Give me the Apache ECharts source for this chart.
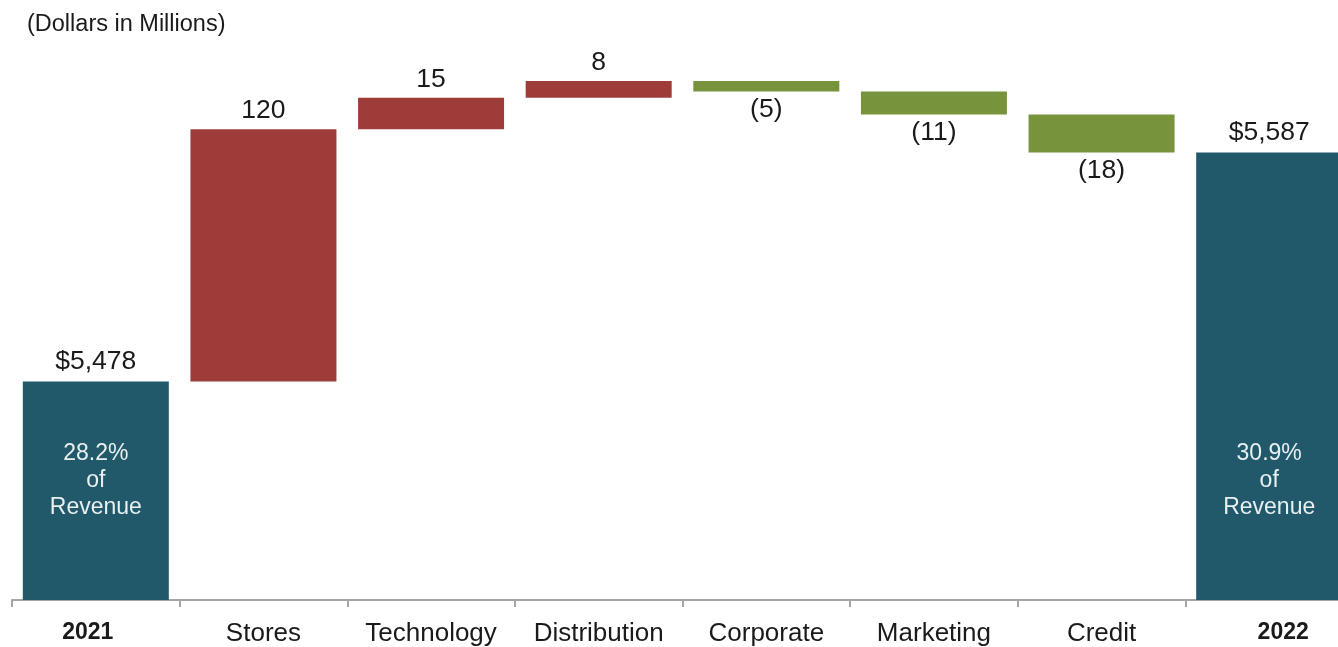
<!DOCTYPE html>
<html><head><meta charset="utf-8">
<script src="https://cdn.jsdelivr.net/npm/echarts@6/dist/echarts.min.js"></script>
<style>html,body{margin:0;padding:0;background:#fff}#c{width:1338px;height:647px}</style>
</head><body><div id="c"></div>
<script>
const categories = ['2021','Stores','Technology','Distribution','Corporate','Marketing','Credit','2022'];
const startTotal = 5478;
const changes = [120, 15, 8, -5, -11, -18];
const endTotal = 5587;
const revenueShare = ['28.2%', '30.9%'];
const unitsNote = '(Dollars in Millions)';

const n = categories.length;
const base = new Array(n).fill('-');
const inc = new Array(n).fill('-');
const dec = new Array(n).fill('-');
const total = new Array(n).fill('-');
total[0] = startTotal; total[n-1] = endTotal;
let run = startTotal;
changes.forEach((c, i) => {
  const k = i + 1;
  if (c >= 0) { base[k] = run; inc[k] = c; }
  else { base[k] = run + c; dec[k] = -c; }
  run += c;
});
const totalTop = categories.map((c, i) => (i === 0 ? startTotal : i === n-1 ? endTotal : '-'));
const FONT = '"Liberation Sans", Arial, sans-serif';
const fmtMoney = v => '$' + v.toLocaleString('en-US');

const chart = echarts.init(document.getElementById('c'));
chart.setOption({
  animation: false,
  textStyle: { fontFamily: FONT },
  grid: { left: 12, right: -15, top: 20, bottom: 47, containLabel: false, outerBoundsMode: 'none' },
  graphic: [{ type: 'text', left: 27, top: 13, style: { text: unitsNote, fontSize: 23.5, fontFamily: FONT, fill: '#1a1a1a' } }],
  xAxis: {
    type: 'category', data: categories,
    axisLine: { lineStyle: { color: '#a6a6a6', width: 2 } },
    axisTick: { show: true, length: 7, lineStyle: { color: '#a6a6a6', width: 2 } },
    axisLabel: {
      margin: 21, fontSize: 26, color: '#1a1a1a', fontFamily: FONT, interval: 0,
      formatter: (v, i) => i === 0 ? '{a|' + v + '}' : i === n-1 ? '{b|' + v + '}' : v,
      rich: {
        a: { fontSize: 23, fontWeight: 'bold', color: '#1a1a1a', fontFamily: FONT, padding: [0, 16, 0, 0] },
        b: { fontSize: 23, fontWeight: 'bold', color: '#1a1a1a', fontFamily: FONT, padding: [0, 0, 0, 28] }
      }
    }
  },
  yAxis: { type: 'value', show: false, min: 5374, max: 5650, splitLine: { show: false } },
  series: [
    { name: 'base', type: 'bar', stack: 'w', data: base, barWidth: 146, itemStyle: { color: 'transparent' }, silent: true },
    { name: 'inc', type: 'bar', stack: 'w', data: inc, barWidth: 146, itemStyle: { color: '#9e3c3a' },
      label: { show: true, position: 'top', distance: 5, fontSize: 26.5, color: '#1a1a1a', fontFamily: FONT } },
    { name: 'dec', type: 'bar', stack: 'w', data: dec, barWidth: 146, itemStyle: { color: '#77933c' },
      label: { show: true, position: 'bottom', distance: 5, fontSize: 26.5, color: '#1a1a1a', fontFamily: FONT,
        formatter: p => '(' + p.value + ')' } },
    { name: 'total', type: 'bar', stack: 'w', data: total, barWidth: 146, itemStyle: { color: '#21586a' },
      label: { show: true, position: 'insideBottom', distance: 79, fontSize: 23, lineHeight: 27, color: '#e8f0f2', fontFamily: FONT,
        formatter: p => (p.dataIndex === 0 ? revenueShare[0] : revenueShare[1]) + '\nof\nRevenue' } },
    { name: 'totalLabel', type: 'scatter', data: totalTop, symbolSize: 0, silent: true, itemStyle: { opacity: 1 },
      label: { show: true, position: 'top', distance: 6, fontSize: 26.5, color: '#1a1a1a', fontFamily: FONT,
        formatter: p => fmtMoney(p.value) } }
  ]
});
</script></body></html>
